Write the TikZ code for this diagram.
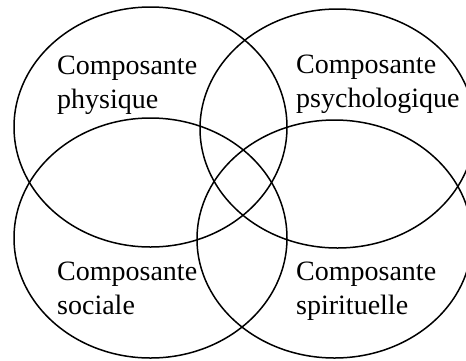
\documentclass[tikz,border=0pt]{standalone}
\usepackage{fontspec}
\setmainfont{Liberation Serif}
\begin{document}
\begin{tikzpicture}[x=1pt,y=-1pt,
  ring/.style={draw=black,line width=1.5pt},
  label/.style={font=\fontsize{28}{34}\selectfont,align=left,inner sep=0pt,anchor=base west}]
\useasboundingbox (0,0) rectangle (466,360);
\draw[ring] (150.5,127) ellipse [x radius=136.5pt, y radius=120pt];
\draw[ring] (337.5,128.5) ellipse [x radius=137.5pt, y radius=119.5pt];
\draw[ring] (150.5,238) ellipse [x radius=136.5pt, y radius=120pt];
\draw[ring] (334.5,239) ellipse [x radius=137.5pt, y radius=119pt];
\node[label] (phys) at (57,108) {Composante\\physique};
\node[label] (psy) at (296,107) {Composante\\psychologique};
\node[label] (soc) at (57,314) {Composante\\sociale};
\node[label] (spi) at (296,314) {Composante\\spirituelle};
\end{tikzpicture}
\end{document}
